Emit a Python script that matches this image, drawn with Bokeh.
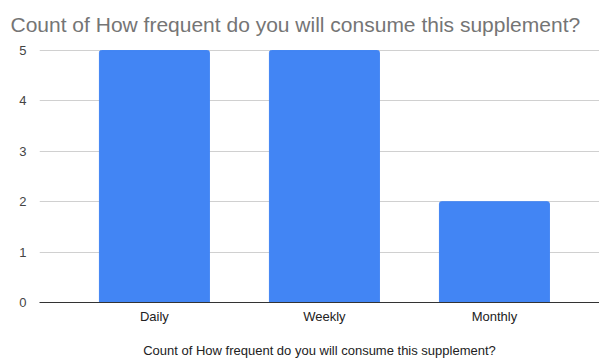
from bokeh.plotting import figure
from bokeh.models import Range1d, FixedTicker, ColumnDataSource
from bokeh.embed import file_html
from bokeh.resources import INLINE

categories = ["Daily", "Weekly", "Monthly"]
counts = [5, 5, 2]
y_ticks = [0, 1, 2, 3, 4, 5]
title_text = "Count of How frequent do you will consume this supplement?"

xs = list(range(len(categories)))
src = ColumnDataSource(dict(x=xs, top=counts))

p = figure(width=599, height=360, output_backend="svg", toolbar_location=None,
           x_range=Range1d(-0.676, 2.618), y_range=Range1d(0, 5.1),
           min_border_left=39, min_border_right=0, min_border_top=0, min_border_bottom=0)

p.title.text = title_text
p.title.text_font = "Liberation Sans"
p.title.text_font_size = "21px"
p.title.text_font_style = "normal"
p.title.text_color = "#757575"
p.title.offset = -29
p.title.standoff = 20

p.vbar(x="x", top="top", width=0.647, source=src, color="#4285F4",
       border_radius=(2, 2, 0, 0))

p.outline_line_color = None
p.xgrid.visible = False
p.ygrid.grid_line_color = "#d0d0d0"
p.ygrid.ticker = FixedTicker(ticks=y_ticks)

p.yaxis.ticker = FixedTicker(ticks=y_ticks)
p.yaxis.axis_line_color = None
p.yaxis.major_tick_line_color = None
p.yaxis.minor_tick_line_color = None
p.yaxis.major_label_text_font = "Liberation Sans"
p.yaxis.major_label_text_font_size = "13px"
p.yaxis.major_label_text_color = "#444444"
p.yaxis.major_label_standoff = 7

p.xaxis.ticker = FixedTicker(ticks=xs)
p.xaxis.major_label_overrides = {i: c for i, c in enumerate(categories)}
p.xaxis.axis_line_color = "#333333"
p.xaxis.major_tick_line_color = None
p.xaxis.minor_tick_line_color = None
p.xaxis.major_label_text_font = "Liberation Sans"
p.xaxis.major_label_text_font_size = "13px"
p.xaxis.major_label_text_color = "#222222"
p.xaxis.major_label_standoff = 0
p.xaxis.axis_label = title_text
p.xaxis.axis_label_text_font = "Liberation Sans"
p.xaxis.axis_label_text_font_size = "13px"
p.xaxis.axis_label_text_font_style = "normal"
p.xaxis.axis_label_text_color = "#222222"
p.xaxis.axis_label_standoff = 16

open("out.html", "w").write(file_html(p, INLINE))
